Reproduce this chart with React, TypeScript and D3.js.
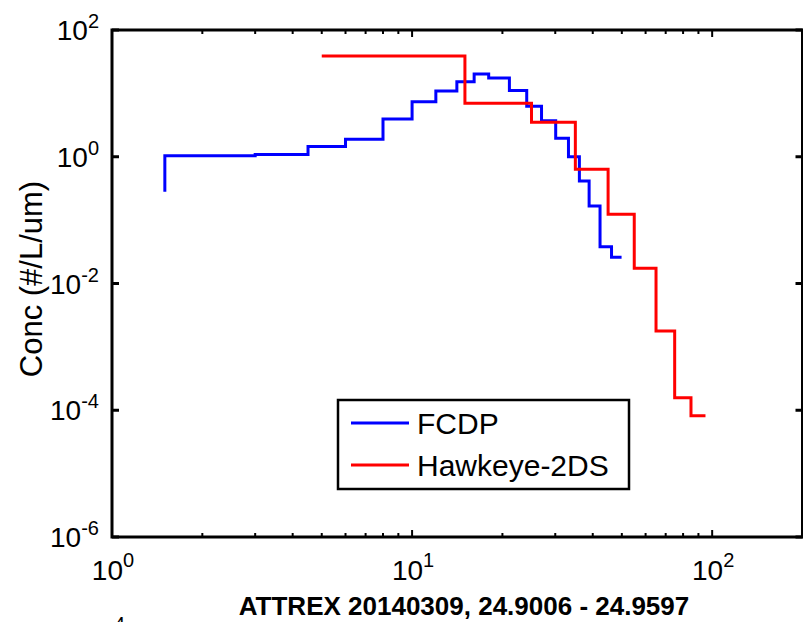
import { scaleLog, line, curveStepAfter } from "d3";

const WIDTH = 803;
const HEIGHT = 622;
const PLOT = { left: 112, right: 802.5, top: 30, bottom: 537 };
const FONT = "'Liberation Sans', Arial, Helvetica, sans-serif";

// FCDP size bin edges (um) and concentrations (#/L/um), drawn as stairs
const fcdpSize = [1.5, 1.5, 3, 4.5, 6, 8, 10, 12, 14.1, 16.1, 18, 21.1, 24.1, 27, 30.1, 33.2, 36.1, 38.9, 42.3, 46.2, 49.9];
const fcdpConc = [0.281, 1.04, 1.09, 1.45, 1.885, 3.94, 7.39, 10.9, 15.3, 20.2, 17.5, 11.1, 6.25, 3.71, 1.955, 1.0, 0.414, 0.167, 0.0381, 0.0259, 0.0259];

// Hawkeye-2DS
const hawkSize = [5, 15, 25, 35, 45, 55, 65, 75, 85, 95];
const hawkConc = [38.9, 6.97, 3.5, 0.634, 0.1236, 0.01738, 0.00178, 1.58e-4, 8.2e-5, 8.2e-5];

const yTickExp = [2, 0, -2, -4, -6];
const xTickExp = [0, 1, 2];
const xMinor = [2, 3, 4, 5, 6, 7, 8, 9, 20, 30, 40, 50, 60, 70, 80, 90, 200];

const seriesNames = ["FCDP", "Hawkeye-2DS"];
const seriesColors = ["#0000ff", "#ff0000"];

const TITLE = "ATTREX 20140309, 24.9006 - 24.9597";
const Y_LABEL = "Conc (#/L/um)";

export default function App() {
  const x = scaleLog().domain([1, 200]).range([PLOT.left, PLOT.right]);
  const y = scaleLog().domain([1e-6, 1e2]).range([PLOT.bottom, PLOT.top]);

  const path = line<[number, number]>()
    .x((d) => x(d[0]))
    .y((d) => y(d[1]))
    .curve(curveStepAfter);

  const fcdpPts = fcdpSize.map((s, i) => [s, fcdpConc[i]] as [number, number]);
  const hawkPts = hawkSize.map((s, i) => [s, hawkConc[i]] as [number, number]);
  const allSeries = [fcdpPts, hawkPts];

  const legend = { x: 338, y: 400, w: 291, h: 89 };

  return (
    <svg
      width={WIDTH}
      height={HEIGHT}
      style={{ position: "absolute", left: 0, top: 0, background: "#fff" }}
      fontFamily={FONT}
    >
      <rect x={0} y={0} width={WIDTH} height={HEIGHT} fill="#fff" />

      {/* data */}
      {allSeries.map((pts, i) => (
        <path
          key={seriesNames[i]}
          d={path(pts) ?? ""}
          fill="none"
          stroke={seriesColors[i]}
          strokeWidth={3}
          strokeLinejoin="miter"
        />
      ))}

      {/* x ticks top & bottom */}
      {xMinor.map((v) => (
        <g key={"m" + v} stroke="#000" strokeWidth={2}>
          <line x1={x(v)} x2={x(v)} y1={PLOT.bottom} y2={PLOT.bottom - 4} />
          <line x1={x(v)} x2={x(v)} y1={PLOT.top} y2={PLOT.top + 4} />
        </g>
      ))}
      {xTickExp.map((e) => (
        <g key={"M" + e} stroke="#000" strokeWidth={2}>
          <line x1={x(10 ** e)} x2={x(10 ** e)} y1={PLOT.bottom} y2={PLOT.bottom - 7} />
          <line x1={x(10 ** e)} x2={x(10 ** e)} y1={PLOT.top} y2={PLOT.top + 7} />
        </g>
      ))}

      {/* y ticks left & right */}
      {yTickExp.map((e) => (
        <g key={"y" + e} stroke="#000" strokeWidth={3}>
          <line x1={PLOT.left} x2={PLOT.left + 7} y1={y(10 ** e)} y2={y(10 ** e)} />
          <line x1={PLOT.right} x2={PLOT.right - 7} y1={y(10 ** e)} y2={y(10 ** e)} />
        </g>
      ))}

      {/* box */}
      <rect
        x={PLOT.left}
        y={PLOT.top}
        width={PLOT.right - PLOT.left}
        height={PLOT.bottom - PLOT.top}
        fill="none"
        stroke="#000"
        strokeWidth={3}
      />

      {/* y tick labels */}
      {yTickExp.map((e) => (
        <text
          key={"yl" + e}
          x={99}
          y={y(10 ** e) + 10}
          textAnchor="end"
          fontSize={28}
          fill="#000"
        >
          10
          <tspan fontSize={20} dy={-12}>
            {e}
          </tspan>
        </text>
      ))}

      {/* x tick labels */}
      {xTickExp.map((e) => (
        <text
          key={"xl" + e}
          x={x(10 ** e) + 1}
          y={580}
          textAnchor="middle"
          fontSize={28}
          fill="#000"
        >
          10
          <tspan fontSize={20} dy={-13}>
            {e}
          </tspan>
        </text>
      ))}

      {/* axis labels */}
      <text
        transform={`translate(42,279) rotate(-90)`}
        textAnchor="middle"
        fontSize={31}
        fill="#000"
      >
        {Y_LABEL}
      </text>
      <text x={464} y={615} textAnchor="middle" fontSize={26} fontWeight="bold" fill="#000">
        {TITLE}
      </text>
      {/* clipped superscript from a panel below */}
      <text x={114} y={631} fontSize={20} fill="#000">
        4
      </text>

      {/* legend */}
      <rect
        x={legend.x}
        y={legend.y}
        width={legend.w}
        height={legend.h}
        fill="#fff"
        stroke="#000"
        strokeWidth={2.5}
      />
      {seriesNames.map((name, i) => {
        const ly = i === 0 ? 423 : 465;
        return (
          <g key={name}>
            <line x1={351} x2={409} y1={ly} y2={ly} stroke={seriesColors[i]} strokeWidth={3} />
            <text x={417} y={ly + 10.5} fontSize={30} fill="#000">
              {name}
            </text>
          </g>
        );
      })}
    </svg>
  );
}
